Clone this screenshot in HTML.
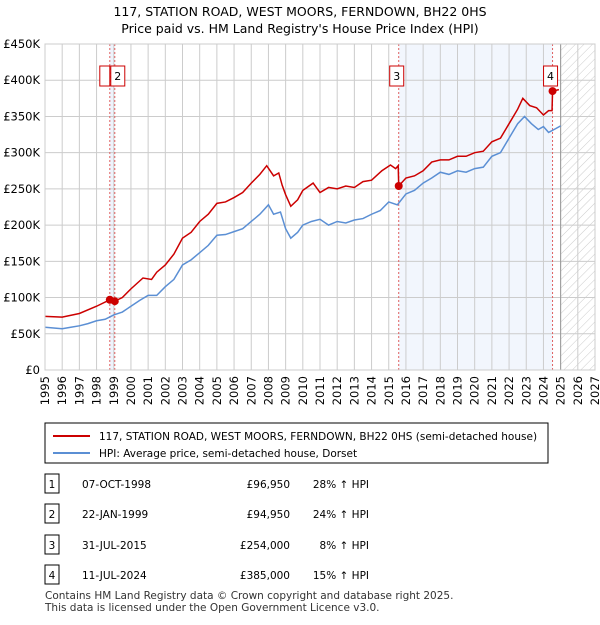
<!DOCTYPE html>
<html><head><meta charset="utf-8"><style>
body{margin:0;background:#fff;font-family:"Liberation Sans",sans-serif;}
svg text{font-family:"DejaVu Sans","Liberation Sans",sans-serif;}
</style></head><body>
<svg id="c" width="600" height="620" xmlns="http://www.w3.org/2000/svg">
<defs><pattern id="hatch" width="6" height="6" patternUnits="userSpaceOnUse" patternTransform="rotate(45)"><line x1="0" y1="0" x2="0" y2="6" stroke="#ccc" stroke-width="1"/></pattern></defs>
<text x="300" y="16" text-anchor="middle" font-size="12.5">117, STATION ROAD, WEST MOORS, FERNDOWN, BH22 0HS</text>
<text x="300" y="33" text-anchor="middle" font-size="12.5">Price paid vs. HM Land Registry's House Price Index (HPI)</text>
<g id="plot"></g>
<g>
<rect x="45" y="423" width="503" height="40" fill="#fff" stroke="#000" stroke-width="1"/>
<line x1="53" y1="436" x2="90" y2="436" stroke="#cc0000" stroke-width="2"/>
<text x="99" y="440" font-size="10.5">117, STATION ROAD, WEST MOORS, FERNDOWN, BH22 0HS (semi-detached house)</text>
<line x1="53" y1="453" x2="90" y2="453" stroke="#5b8fd4" stroke-width="2"/>
<text x="99" y="457" font-size="10.5">HPI: Average price, semi-detached house, Dorset</text>
</g>
<g id="table" font-size="10.5"></g>
<text x="45" y="599" font-size="10.5" fill="#333">Contains HM Land Registry data © Crown copyright and database right 2025.</text>
<text x="45" y="611" font-size="10.5" fill="#333">This data is licensed under the Open Government Licence v3.0.</text>
</svg>
<script>
const hpiYears=[1995,1995.5,1996,1996.5,1997,1997.5,1998,1998.5,1999,1999.5,2000,2000.5,2001,2001.5,2002,2002.5,2003,2003.5,2004,2004.5,2005,2005.5,2006,2006.5,2007,2007.5,2008,2008.3,2008.7,2009,2009.3,2009.7,2010,2010.5,2011,2011.5,2012,2012.5,2013,2013.5,2014,2014.5,2015,2015.5,2016,2016.5,2017,2017.5,2018,2018.5,2019,2019.5,2020,2020.5,2021,2021.5,2022,2022.5,2022.9,2023.3,2023.7,2024,2024.3,2024.7,2025];
const hpiValues=[59,58,57,59,61,64,68,70,76,80,88,96,103,103,115,125,145,152,162,172,186,187,191,195,205,215,228,215,218,195,182,190,200,205,208,200,205,203,207,209,215,220,232,228,243,248,258,265,273,270,275,273,278,280,295,300,320,340,350,340,332,336,328,333,337];
const priceYears=[1995,1996,1997,1998,1998.77,1999.06,1999.5,2000,2000.7,2001.2,2001.5,2002,2002.5,2003,2003.5,2004,2004.5,2005,2005.5,2006,2006.5,2007,2007.5,2007.9,2008.3,2008.6,2008.8,2009,2009.3,2009.7,2010,2010.6,2011,2011.5,2012,2012.5,2013,2013.5,2014,2014.6,2015.1,2015.4,2015.55,2015.58,2016,2016.5,2017,2017.5,2018,2018.5,2019,2019.5,2020,2020.5,2021,2021.5,2022,2022.5,2022.8,2023.2,2023.6,2024,2024.3,2024.5,2024.53,2024.9];
const priceValues=[74,73,78,88,96.95,94.95,100,112,127,125,135,145,160,182,190,205,215,230,232,238,245,258,270,282,268,272,255,242,226,235,248,258,245,252,250,254,252,260,262,275,283,278,282,254,265,268,275,287,290,290,295,295,300,302,315,320,340,360,375,365,362,352,358,358,385,387];
const saleLabels=["1","2","3","4"];
const saleYears=[1998.77,1999.06,2015.58,2024.53];
const saleValues=[96.95,94.95,254,385];
const saleDates=["07-OCT-1998","22-JAN-1999","31-JUL-2015","11-JUL-2024"];
const salePrices=["£96,950","£94,950","£254,000","£385,000"];
const saleHpi=["28% ↑ HPI","24% ↑ HPI","8% ↑ HPI","15% ↑ HPI"];
const yTicks=[0,50,100,150,200,250,300,350,400,450];
const yTickLabels=["£0","£50K","£100K","£150K","£200K","£250K","£300K","£350K","£400K","£450K"];
const xTicks=[];for(let y=1995;y<=2027;y++)xTicks.push(y);

const X0=45,X1=595,Y0=370,Y1=44;
const xs=y=>X0+(y-1995)/(2027-1995)*(X1-X0);
const ys=v=>Y0-v/450*(Y0-Y1);
const NS="http://www.w3.org/2000/svg";
const plot=document.getElementById('plot');
function mk(tag,attrs,parent){const e=document.createElementNS(NS,tag);for(const k in attrs)e.setAttribute(k,attrs[k]);(parent||plot).appendChild(e);return e;}

let e;
e=mk('rect',{x:xs(saleYears[0]),y:Y1,width:xs(saleYears[1])-xs(saleYears[0]),height:Y0-Y1,fill:'#eef3fc'});


e=mk('rect',{x:xs(saleYears[2]),y:Y1,width:xs(saleYears[3])-xs(saleYears[2]),height:Y0-Y1,fill:'#f2f6fd'});


e=mk('rect',{x:xs(2025),y:Y1,width:X1-xs(2025),height:Y0-Y1,fill:'url(#hatch)'});



xTicks.forEach(t=>{
  const l=mk('line',{x1:xs(t),x2:xs(t),y1:Y1,y2:Y0,stroke:'#ccc','stroke-width':1});
  
  
  const tx=mk('text',{x:0,y:0,'font-size':11.5,'text-anchor':'end',transform:`translate(${xs(t)+4},${Y0+6}) rotate(-90)`});
  tx.textContent=t;
  
  
});
yTicks.forEach((t,i)=>{
  const l=mk('line',{x1:X0,x2:X1,y1:ys(t),y2:ys(t),stroke:'#ccc','stroke-width':1});
  
  
  const tx=mk('text',{x:X0-5,y:ys(t)+4,'font-size':11.5,'text-anchor':'end'});
  tx.textContent=yTickLabels[i];
  
  
});
e=mk('line',{x1:xs(2025),x2:xs(2025),y1:Y1,y2:Y0,stroke:'#999','stroke-width':1});


saleYears.forEach((y,i)=>{
  const l=mk('line',{x1:xs(y),x2:xs(y),y1:Y1,y2:Y0,stroke:'#e06060','stroke-width':1,'stroke-dasharray':'2,2'});
  
  
});
e=mk('polyline',{points:hpiYears.map((y,i)=>xs(y)+','+ys(hpiValues[i])).join(' '),fill:'none',stroke:'#5b8fd4','stroke-width':1.5});


e=mk('polyline',{points:priceYears.map((y,i)=>xs(y)+','+ys(priceValues[i])).join(' '),fill:'none',stroke:'#cc0000','stroke-width':1.5});


saleYears.forEach((y,i)=>{
  const c=mk('circle',{cx:xs(y),cy:ys(saleValues[i]),r:4,fill:'#cc0000'});
  
  
  const bx=(i==0)?xs(y)-12:xs(y)-8-(i==1?1:0);
  const r=mk('rect',{x:i==0?xs(y)-10:xs(y)-4-(i==1?0:5),y:66,width:i==0?10:14,height:20,fill:'#fff',stroke:'#cc0000','stroke-width':1});
  
  
  if(i>0){const t=mk('text',{x:i==1?xs(y)+3:xs(y)-2,y:80,'font-size':11,'text-anchor':'middle'});t.textContent=saleLabels[i];
  
  }
});
e=mk('rect',{x:X0,y:Y1,width:X1-X0,height:Y0-Y1,fill:'none',stroke:'#ccc','stroke-width':1});



const tb=document.getElementById('table');
const rowY=[484,514,545,575];
saleLabels.forEach((s,i)=>{
  const y=rowY[i];
  const r=mk('rect',{x:45,y:y-10,width:14,height:19,fill:'#fff',stroke:'#000','stroke-width':1},tb);
  
  
  const t0=mk('text',{x:52,y:y+4,'text-anchor':'middle'},tb);t0.textContent=s;
  
  
  const t1=mk('text',{x:82,y:y+4},tb);t1.textContent=saleDates[i];
  
  
  const t2=mk('text',{x:290,y:y+4,'text-anchor':'end'},tb);t2.textContent=salePrices[i];
  
  
  const t3=mk('text',{x:369,y:y+4,'text-anchor':'end'},tb);t3.textContent=saleHpi[i];
  
  
});
</script>
</body></html>
